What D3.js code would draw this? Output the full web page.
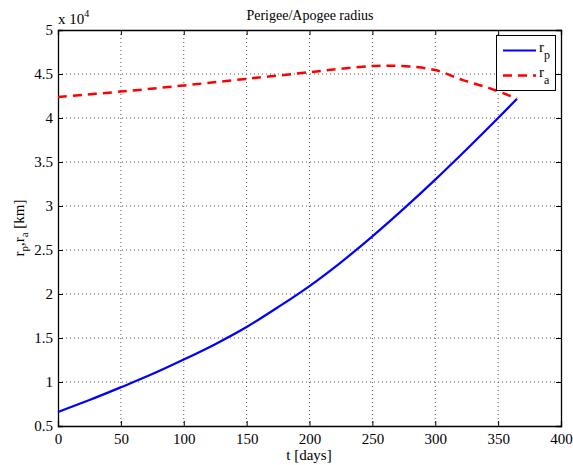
<!DOCTYPE html>
<html><head><meta charset="utf-8">
<script src="https://cdn.jsdelivr.net/npm/d3@7"></script>
<style>body{margin:0;background:#fff}svg{display:block}svg text{font-family:"Liberation Serif","DejaVu Serif",serif !important;fill:#000}</style>
</head><body><div id="chart"></div>
<script>
const title = "Perigee/Apogee radius";
const xLabel = "t [days]";
const xTicks = [0,50,100,150,200,250,300,350,400];
const yTicks = [0.5,1,1.5,2,2.5,3,3.5,4,4.5,5];
const tRp = [0,25,50,75,100,125,150,175,200,225,250,275,300,325,350,365];
const rp  = [0.66,0.795,0.94,1.09,1.255,1.43,1.625,1.85,2.09,2.36,2.655,2.97,3.30,3.645,4.0,4.22];
const tRa = [0,50,100,150,200,225,250,265,280,300,322,343,365];
const ra  = [4.24,4.30,4.37,4.445,4.52,4.56,4.59,4.595,4.585,4.545,4.43,4.34,4.22];

const W=573,H=465, L=58,R=561,T=30,B=426;
const svg=d3.select("#chart").append("svg").attr("width",W).attr("height",H);
const x=d3.scaleLinear().domain([0,400]).range([L,R]);
const y=d3.scaleLinear().domain([0.5,5]).range([B,T]);

// grid
const g=svg.append("g");
xTicks.slice(1,-1).forEach(v=>g.append("line").attr("x1",x(v)).attr("x2",x(v)).attr("y1",T).attr("y2",B)
  .attr("stroke","#555").attr("stroke-width",1).attr("stroke-dasharray","1,3"));
yTicks.slice(1,-1).forEach(v=>g.append("line").attr("x1",L).attr("x2",R).attr("y1",y(v)).attr("y2",y(v))
  .attr("stroke","#555").attr("stroke-width",1).attr("stroke-dasharray","1,3"));

// axes
const xa=svg.append("g").attr("transform",`translate(0,${B})`)
  .call(d3.axisBottom(x).tickValues(xTicks).tickSize(-5).tickPadding(7).tickFormat(d3.format("d")));
const xt=svg.append("g").attr("transform",`translate(0,${T})`)
  .call(d3.axisTop(x).tickValues(xTicks).tickSize(-5).tickFormat(""));
const ya=svg.append("g").attr("transform",`translate(${L},0)`)
  .call(d3.axisLeft(y).tickValues(yTicks).tickSize(-5).tickPadding(5).tickFormat(d=>d3.format("")(d)));
const yr=svg.append("g").attr("transform",`translate(${R},0)`)
  .call(d3.axisRight(y).tickValues(yTicks).tickSize(-5).tickFormat(""));
[xa,xt,ya,yr].forEach(a=>{a.attr("font-family","Liberation Serif, serif").attr("font-size",15);
  a.selectAll("path").attr("stroke","#000").attr("stroke-width",1.3);
  a.selectAll("line").attr("stroke","#000");
  a.selectAll("text").attr("fill","#000");});

// lines
const line=d3.line().x(d=>x(d[0])).y(d=>y(d[1])).curve(d3.curveCatmullRom);
svg.append("path").datum(tRp.map((t,i)=>[t,rp[i]])).attr("d",line)
  .attr("fill","none").attr("stroke","#0000ff").attr("stroke-width",2.2);
svg.append("path").datum(tRa.map((t,i)=>[t,ra[i]])).attr("d",line)
  .attr("fill","none").attr("stroke","#ff0000").attr("stroke-width",2.5).attr("stroke-dasharray","9,6");

// texts
svg.append("text").attr("x",310).attr("y",20).attr("text-anchor","middle").style("font-size","14px").text(title);
svg.append("text").attr("x",309).attr("y",460).attr("text-anchor","middle").style("font-size","15px").text(xLabel);
const yl=svg.append("text").attr("transform","translate(24,228) rotate(-90)").attr("text-anchor","middle").style("font-size","15px");
yl.append("tspan").text("r");
yl.append("tspan").attr("dy",4).style("font-size","11px").text("p");
yl.append("tspan").attr("dy",-4).text(",r");
yl.append("tspan").attr("dy",4).style("font-size","11px").text("a");
yl.append("tspan").attr("dy",-4).text(" [km]");
const mult=svg.append("text").attr("x",58).attr("y",24).style("font-size","15px");
mult.append("tspan").text("x 10");
mult.append("tspan").attr("dy",-7).style("font-size","10px").text("4");

// legend
const lg=svg.append("g");
lg.append("rect").attr("x",496.5).attr("y",35.5).attr("width",59).attr("height",55).attr("fill","#fff").attr("stroke","#000").attr("stroke-width",1);
lg.append("line").attr("x1",503).attr("x2",536).attr("y1",50.5).attr("y2",50.5).attr("stroke","#0000ff").attr("stroke-width",2.2);
lg.append("line").attr("x1",503).attr("x2",536).attr("y1",75.5).attr("y2",75.5).attr("stroke","#ff0000").attr("stroke-width",2.5).attr("stroke-dasharray","9,6");
[["p",52],["a",77]].forEach(([s,yy])=>{const t=lg.append("text").attr("x",539).attr("y",yy).style("font-size","15px");
  t.append("tspan").text("r"); t.append("tspan").attr("dy",7).style("font-size","12px").text(s);});
</script></body></html>
